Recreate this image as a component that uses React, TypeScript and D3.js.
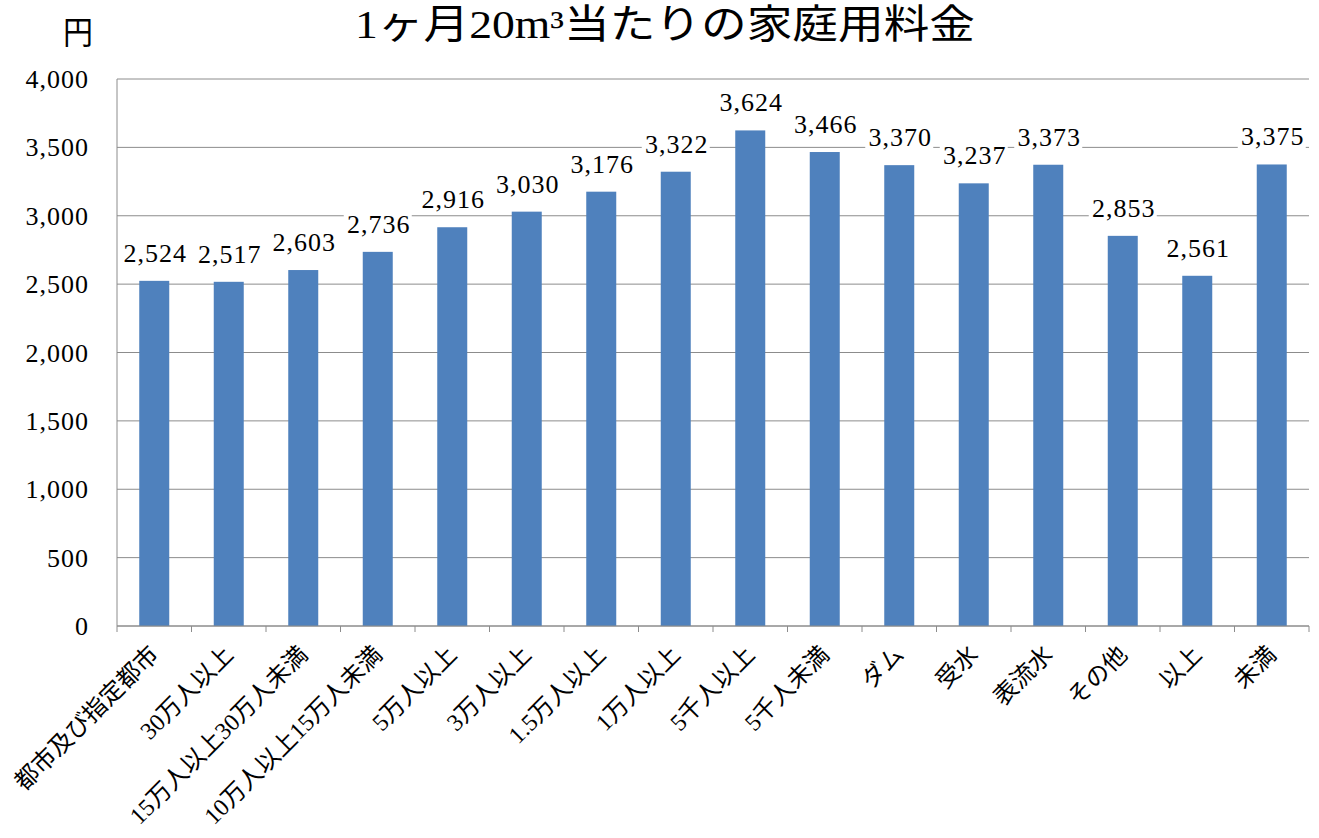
import React from "react";
import * as d3 from "d3";

const categories = [
  "都市及び指定都市",
  "30万人以上",
  "15万人以上30万人未満",
  "10万人以上15万人未満",
  "5万人以上",
  "3万人以上",
  "1.5万人以上",
  "1万人以上",
  "5千人以上",
  "5千人未満",
  "ダム",
  "受水",
  "表流水",
  "その他",
  "以上",
  "未満",
];
const values = [2524, 2517, 2603, 2736, 2916, 3030, 3176, 3322, 3624, 3466, 3370, 3237, 3373, 2853, 2561, 3375];
const yTicks = [0, 500, 1000, 1500, 2000, 2500, 3000, 3500, 4000];
const title = "1ヶ月20m³当たりの家庭用料金";
const unit = "円";

const W = 1319;
const H = 838;
const left = 117;
const right = 1309;
const top = 79;
const bottom = 626;
const FONT = "'Liberation Serif', 'Noto Sans CJK JP', serif";

export default function App() {
  const x = d3.scaleBand<string>().domain(categories).range([left, right]).paddingInner(0).paddingOuter(0);
  const y = d3.scaleLinear().domain([0, 4000]).range([bottom, top]);
  const fmt = d3.format(",");
  const bw = 30;
  const bounds = categories.map((_, i) => left + i * x.step()).concat([right]);
  return (
    <svg width={W} height={H} style={{ position: "absolute", left: 0, top: 0, background: "#fff" }} fontFamily={FONT}>
      <rect x={0} y={0} width={W} height={H} fill="#fff" />
      {yTicks.map((t) => (
        <line key={t} x1={left} x2={right} y1={y(t)} y2={y(t)} stroke="#8c8c8c" strokeWidth={1} />
      ))}
      <line x1={left} x2={left} y1={top} y2={bottom} stroke="#8c8c8c" />
      {yTicks.map((t) => (
        <text key={t} x={89} y={y(t) + 9} textAnchor="end" fontSize={26} letterSpacing={1} fill="#000">
          {fmt(t)}
        </text>
      ))}
      {categories.map((c, i) => (
        <rect key={c} x={x(c)! + x.bandwidth() / 2 - bw / 2} y={y(values[i])} width={bw} height={bottom - y(values[i])} fill="#4F81BD" />
      ))}
      <line x1={left} x2={right} y1={bottom} y2={bottom} stroke="#8c8c8c" />
      {bounds.map((b, i) => (
        <line key={i} x1={b} x2={b} y1={bottom} y2={bottom + 6} stroke="#8c8c8c" />
      ))}
      {categories.map((c, i) => {
        const cx = x(c)! + x.bandwidth() / 2;
        const ty = y(values[i]) - 19;
        const s = fmt(values[i]);
        return (
          <g key={c}>
            <rect x={cx - 34} y={ty - 23} width={68} height={29} fill="#fff" />
            <text x={cx + 1} y={ty} textAnchor="middle" fontSize={26} letterSpacing={1} fill="#000">
              {s}
            </text>
          </g>
        );
      })}
      {categories.map((c) => {
        const cx = x(c)! + x.bandwidth() / 2 + 6;
        return (
          <text key={c} transform={`translate(${cx},${bottom + 30}) rotate(-45)`} textAnchor="end" fontSize={24} fill="#000">
            {c}
          </text>
        );
      })}
      <text x={355} y={38} fontSize={40} textLength={620} lengthAdjust="spacingAndGlyphs" fill="#000">
        {title}
      </text>
      <text x={63} y={44} fontSize={32} textLength={30} lengthAdjust="spacingAndGlyphs" fill="#000">
        {unit}
      </text>
    </svg>
  );
}
